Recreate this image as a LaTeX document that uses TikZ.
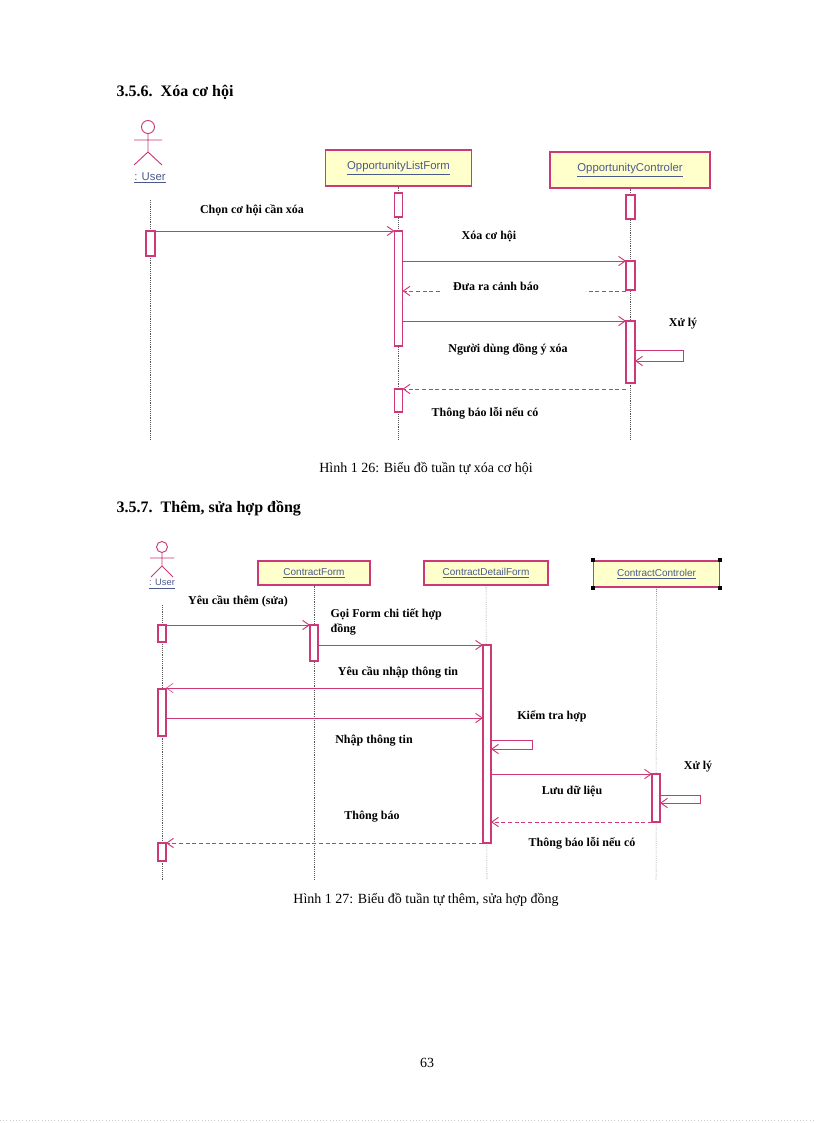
\documentclass[tikz,border=0pt]{standalone}
\usepackage{fontspec}
\setmainfont{Liberation Serif}
\newfontfamily\boxfont{Liberation Sans}
\usetikzlibrary{arrows.meta}
\definecolor{uml}{rgb}{0.80,0.22,0.47}
\definecolor{boxfill}{rgb}{1,1,0.80}
\definecolor{boxtext}{rgb}{0.30,0.35,0.55}
\begin{document}
\begin{tikzpicture}[x=0.75pt,y=-0.75pt,
  life/.style={densely dotted,gray!70!black,thin},
  act/.style={draw=uml,fill=white,line width=0.8pt},
  obj/.style={draw=uml,fill=boxfill,line width=0.9pt,inner sep=0pt,
     font=\boxfont\fontsize{8.5}{10}\selectfont,text=boxtext},
  msg/.style={uml,line width=0.7pt,-{Straight Barb[length=5pt,width=7pt]}},
  ret/.style={uml,line width=0.7pt,densely dashed,-{Straight Barb[length=5pt,width=7pt]}},
  lbl/.style={font=\bfseries\fontsize{9}{11}\selectfont,inner sep=1pt},
  actor/.style={uml,line width=0.7pt}]
\useasboundingbox (0,0) rectangle (816,1123);
\fill[white] (0,0) rectangle (816,1123);
% headings
\node[anchor=west,font=\bfseries\fontsize{12}{14}\selectfont] (h1) at (112,92) {3.5.6.\ \ Xóa cơ hội};
\node[anchor=west,font=\bfseries\fontsize{12}{14}\selectfont] (h2) at (112,508) {3.5.7.\ \ Thêm, sửa hợp đồng};
% ===== Diagram 1 =====
\draw[actor] (148,127) circle (6.5);
\draw[actor] (148,133.5) -- (148,152) (134,140) -- (162,140) (134,165) -- (148,152) -- (162,165);
\node[font=\boxfont\fontsize{8.5}{10}\selectfont,text=boxtext] (u1) at (150,178) {\underline{: User}};
\node[obj,minimum width=110pt,minimum height=27pt] (olf) at (398.5,168) {\underline{OpportunityListForm}};
\node[obj,minimum width=120pt,minimum height=27pt] (oc) at (630,170) {\underline{OpportunityControler}};
\draw[life] (150,200) -- (150,440);
\draw[life] (olf.south) -- (398.5,440);
\draw[life] (oc.south) -- (630,440);
\draw[act] (146,231) rectangle (155,256);
\draw[act] (394.5,193) rectangle (402.5,217);
\draw[act] (394.5,231) rectangle (402.5,346);
\draw[act] (394.5,389) rectangle (402.5,412);
\draw[act] (626,195) rectangle (635,219);
\draw[act] (626,261) rectangle (635,290);
\draw[act] (626,321) rectangle (635,383);
\coordinate (a1) at (155,231); \coordinate (b1) at (394.5,231);
\coordinate (a2) at (402.5,261); \coordinate (b2) at (626,261);
\coordinate (a3) at (626,291); \coordinate (b3) at (402.5,291);
\coordinate (a4) at (402.5,321); \coordinate (b4) at (626,321);
\coordinate (a5) at (626,389); \coordinate (b5) at (402.5,389);
\coordinate (s1) at (635,350); \coordinate (s2) at (635,361);
\draw[msg] (a1) -- (b1);
\draw[msg] (a2) -- (b2);
\draw[ret,-] (a3) -- (586,291);
\draw[ret] (440,291) -- (b3);
\draw[msg] (a4) -- (b4);
\draw[msg] (s1) -- (683,350) -- (683,361) -- (s2);
\draw[ret] (a5) -- (b5);
\node[lbl] (l1) at (252,210) {Chọn cơ hội cần xóa};
\node[lbl] (l2) at (489,236) {Xóa cơ hội};
\node[lbl] (l3) at (496,286) {Đưa ra cảnh báo};
\node[lbl] (l4) at (683,324) {Xử lý};
\node[lbl] (l5) at (508,349) {Người dùng đồng ý xóa};
\node[lbl] (l6) at (485,413) {Thông báo lỗi nếu có};
\node[font=\fontsize{10.5}{12}\selectfont] (c1) at (426,469) {Hình 1 26: Biểu đồ tuần tự xóa cơ hội};
% ===== Diagram 2 =====
\draw[actor] (162,547) circle (5.5);
\draw[actor] (162,552.5) -- (162,566) (150,558) -- (174,558) (151,577) -- (162,566) -- (173,577);
\node[font=\boxfont\fontsize{7}{8}\selectfont,text=boxtext] (u2) at (162,584) {\underline{: User}};
\node[obj,minimum width=84pt,minimum height=18pt,font=\boxfont\fontsize{7.5}{9}\selectfont] (cf) at (314,573) {\underline{ContractForm}};
\node[obj,minimum width=93pt,minimum height=18pt,font=\boxfont\fontsize{7.5}{9}\selectfont] (cdf) at (486,573) {\underline{ContractDetailForm}};
\node[obj,minimum width=95pt,minimum height=19.5pt,font=\boxfont\fontsize{7.5}{9}\selectfont] (cc) at (656.5,574) {\underline{ContractControler}};
\foreach \c in {north west,north east,south west,south east} \fill[black] (cc.\c) +(-2,-2) rectangle +(2,2);
\draw[life] (162,605) -- (162,880);
\draw[life] (cf.south) -- (314,880);
\draw[life] (cdf.south) -- (487,880);
\draw[life] (cc.south) -- (656,880);
\draw[act] (158,625) rectangle (166,642);
\draw[act] (158,689) rectangle (166,736);
\draw[act] (158,843) rectangle (166,861);
\draw[act] (310,625) rectangle (318,661);
\draw[act] (483,645) rectangle (491,843);
\draw[act] (652,774) rectangle (660,822);
\coordinate (d1) at (166,625); \coordinate (e1) at (310,625);
\coordinate (d2) at (318,645); \coordinate (e2) at (483,645);
\coordinate (d3) at (483,688); \coordinate (e3) at (166,688);
\coordinate (d4) at (166,718); \coordinate (e4) at (483,718);
\coordinate (t1) at (491,740); \coordinate (t2) at (491,749);
\coordinate (d5) at (491,774); \coordinate (e5) at (652,774);
\coordinate (t3) at (660,795); \coordinate (t4) at (660,803);
\coordinate (d6) at (652,822); \coordinate (e6) at (491,822);
\coordinate (d7) at (483,843); \coordinate (e7) at (166,843);
\draw[msg] (d1) -- (e1);
\draw[msg] (d2) -- (e2);
\draw[msg,line width=0.4pt] (d3) -- (e3);
\draw[msg] (d4) -- (e4);
\draw[msg] (t1) -- (532,740) -- (532,749) -- (t2);
\draw[msg] (d5) -- (e5);
\draw[msg] (t3) -- (700,795) -- (700,803) -- (t4);
\draw[ret] (d6) -- (e6);
\draw[ret] (d7) -- (e7);
\node[lbl] (m1) at (238,601) {Yêu cầu thêm (sửa)};
\node[lbl,anchor=west,align=left] (m2) at (329,622) {Gọi Form chi tiết hợp\\đồng};
\node[lbl] (m3) at (398,672) {Yêu cầu nhập thông tin};
\node[lbl] (m4) at (374,741) {Nhập thông tin};
\node[lbl] (m5) at (552,716) {Kiểm tra hợp};
\node[lbl] (m6) at (698,767) {Xử lý};
\node[lbl] (m7) at (572,791) {Lưu dữ liệu};
\node[lbl] (m8) at (372,817) {Thông báo};
\node[lbl] (m9) at (582,843) {Thông báo lỗi nếu có};
\node[font=\fontsize{10.5}{12}\selectfont] (c2) at (426,900) {Hình 1 27: Biểu đồ tuần tự thêm, sửa hợp đồng};
\node[font=\fontsize{10.5}{12}\selectfont] (pg) at (427,1063) {63};
\draw[gray!40,dotted] (0,1120) -- (816,1120);
\end{tikzpicture}
\end{document}
